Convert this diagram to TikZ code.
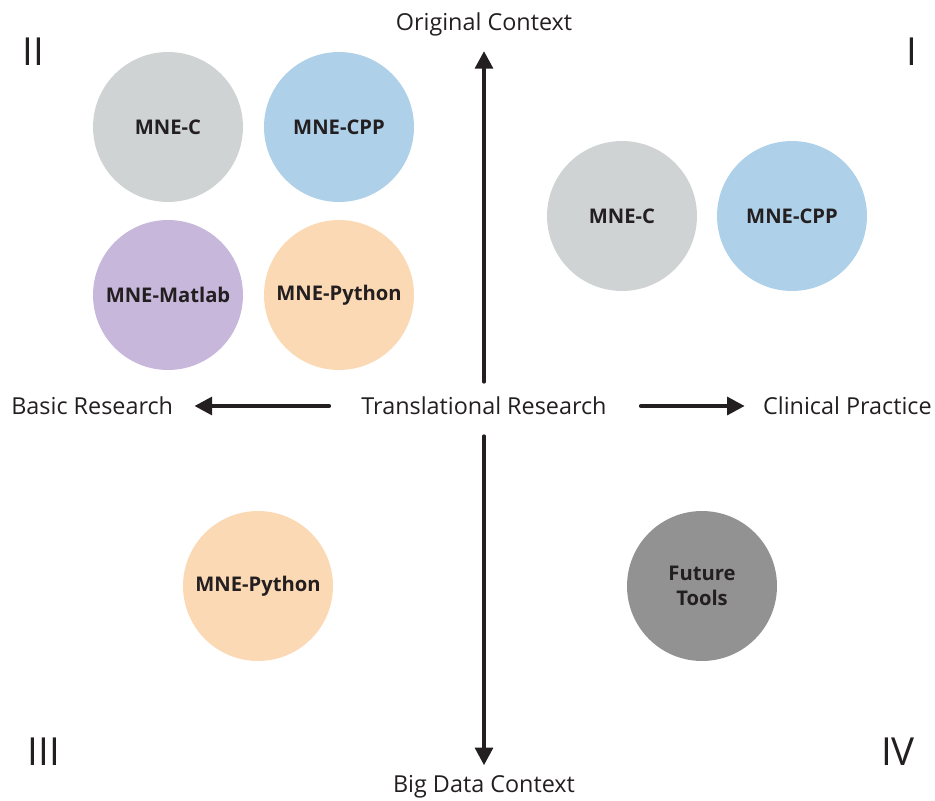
\documentclass[tikz,border=0pt]{standalone}
\usepackage{fontspec}
\setmainfont{Open Sans}
\usepackage{tikz}
\usetikzlibrary{arrows.meta}

\definecolor{toolC}{HTML}{D0D3D4}
\definecolor{toolCPP}{HTML}{AED0E9}
\definecolor{toolMatlab}{HTML}{C6B7DB}
\definecolor{toolPython}{HTML}{FBD9B5}
\definecolor{toolFuture}{HTML}{929293}
\definecolor{ink}{HTML}{231F20}

\begin{document}
\begin{tikzpicture}[x=0.02cm, y=-0.02cm,
	tool/.style={circle, minimum size=3cm, inner sep=0pt, align=center, font=\bfseries\fontsize{11.5}{14.5}\selectfont, text=ink},
	axislabel/.style={inner sep=0pt, font=\fontsize{13.3}{15}\selectfont, text=ink},
	quadrant/.style={inner sep=0pt, font=\fontsize{22}{24}\selectfont, text=ink},
	axis/.style={-{Triangle[length=10pt, width=10pt]}, line width=2.3pt, line cap=round, ink}]

\useasboundingbox (0,0) rectangle (935,800);

% axis labels
\node[axislabel] (tr) at (484,406) {Translational Research};
\node[axislabel] (orig) at (484,24) {Original Context};
\node[axislabel] (big) at (484,787) {Big Data Context};
\node[axislabel, anchor=west] (basic) at (11,406) {Basic Research};
\node[axislabel, anchor=east] (clin) at (932,406) {Clinical Practice};

% quadrant numbers
\node[quadrant] (q1) at (912,52) {I};
\node[quadrant] (q2) at (33,52) {II};
\node[quadrant] (q3) at (44,752) {III};
\node[quadrant] (q4) at (898,752) {IV};

% axes
\draw[axis, shorten <=0.3cm, shorten >=0.3cm] (tr.north) -- (orig.south);
\draw[axis, shorten <=0.42cm, shorten >=0.2cm] (tr.south) -- (big.north);
\draw[axis, shorten <=0.64cm, shorten >=0.42cm] (tr.west) -- (basic.east);
\draw[axis, shorten <=0.68cm, shorten >=0.36cm] (tr.east) -- (clin.west);

% tools
\foreach \name/\x/\y/\col/\txt in {
	c2/168/127/toolC/MNE-C,
	cpp2/339/127/toolCPP/MNE-CPP,
	matlab2/168/295/toolMatlab/MNE-Matlab,
	python2/339/295/toolPython/MNE-Python,
	c1/622/216/toolC/MNE-C,
	cpp1/792/216/toolCPP/MNE-CPP,
	python3/258/586/toolPython/MNE-Python,
	future4/702/586/toolFuture/{Future\\Tools}}
	\node[tool, fill=\col] (\name) at (\x,\y) {\txt};

\end{tikzpicture}
\end{document}
